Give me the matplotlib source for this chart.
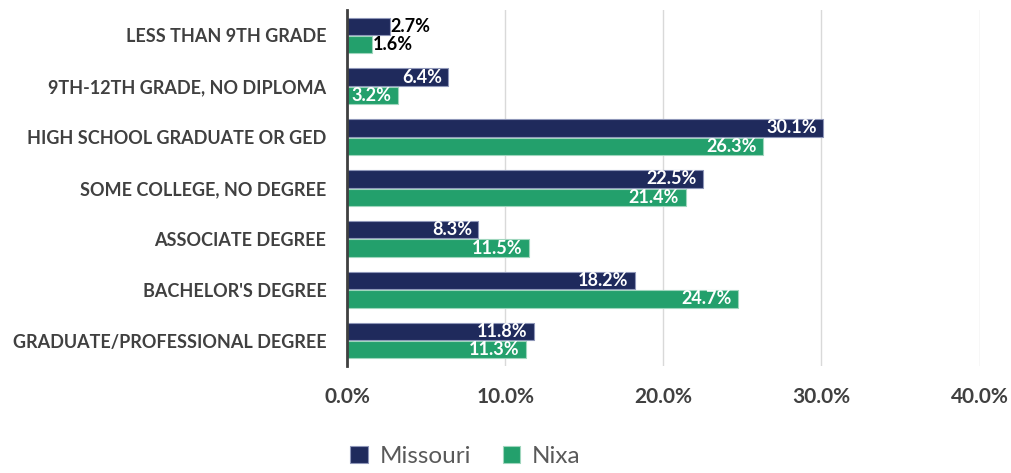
import matplotlib

matplotlib.use("Agg")
import matplotlib.pyplot as plt
import numpy as np

categories = [
    "LESS THAN 9TH GRADE",
    "9TH-12TH GRADE, NO DIPLOMA",
    "HIGH SCHOOL GRADUATE OR GED",
    "SOME COLLEGE, NO DEGREE",
    "ASSOCIATE DEGREE",
    "BACHELOR'S DEGREE",
    "GRADUATE/PROFESSIONAL DEGREE",
]
missouri = [2.7, 6.4, 30.1, 22.5, 8.3, 18.2, 11.8]
nixa = [1.6, 3.2, 26.3, 21.4, 11.5, 24.7, 11.3]
x_ticks = [0, 10, 20, 30, 40]

NAVY = "#1f2a5c"
GREEN = "#23a06c"
TEXT = "#404040"
FONT = "Lato"

fig = plt.figure(figsize=(10.12, 4.73), dpi=100)
ax = fig.add_axes([0.343, 0.226, 0.625, 0.753])

y = np.arange(len(categories))
h = 0.34
off = 0.18
b1 = ax.barh(y - off, missouri, height=h, color=NAVY, edgecolor="#8e96b8",
             linewidth=0.8, label="Missouri", zorder=3)
b2 = ax.barh(y + off, nixa, height=h, color=GREEN, edgecolor="#9fd6bd",
             linewidth=0.8, label="Nixa", zorder=3)

# value labels: inside end when the bar is wide enough, else just outside
for bars, vals in ((b1, missouri), (b2, nixa)):
    for bar, v in zip(bars, vals):
        yc = bar.get_y() + bar.get_height() / 2
        if v >= 3:
            ax.text(v - 0.4, yc, f"{v:.1f}%", ha="right", va="center",
                    color="white", fontsize=13, fontweight="bold",
                    family=FONT, zorder=4)
        else:
            ax.text(v + 0.05, yc, f"{v:.1f}%", ha="left", va="center",
                    color="black", fontsize=13, fontweight="bold",
                    family=FONT, zorder=4)

ax.set_ylim(len(categories) - 0.5, -0.5)
ax.set_xlim(0, 40)
ax.set_yticks(y)
ax.set_yticklabels(categories, fontsize=13, fontweight="bold", family=FONT,
                   color=TEXT)
ax.set_xticks(x_ticks)
ax.set_xticklabels([f"{t:.1f}%" for t in x_ticks], fontsize=15,
                   fontweight="bold", family=FONT, color=TEXT)
ax.tick_params(axis="y", length=0, pad=15)
ax.tick_params(axis="x", length=0, pad=15)

ax.grid(axis="x", color="#d9d9d9", linewidth=1, zorder=0)
for side in ("top", "right", "bottom"):
    ax.spines[side].set_visible(False)
ax.spines["left"].set_color("#404040")
ax.spines["left"].set_linewidth(2)
ax.spines["left"].set_zorder(5)

leg = fig.legend(handles=[b1, b2], loc="center", bbox_to_anchor=(0.46, 0.034),
                 ncol=2, frameon=False, handlelength=0.7, handleheight=0.7,
                 handletextpad=0.5, columnspacing=1.3,
                 prop={"family": FONT, "size": 17.5})
for t in leg.get_texts():
    t.set_color("#595959")

fig.savefig("out.png", dpi=100)
